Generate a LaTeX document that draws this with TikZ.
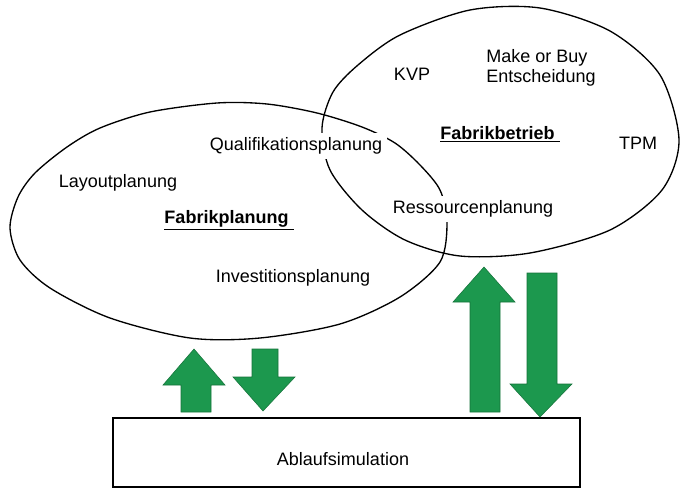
\documentclass[tikz,border=0pt]{standalone}
\usepackage{fontspec}
\setmainfont{Liberation Sans}
\definecolor{arrowgreen}{RGB}{28,152,78}
\tikzset{every picture/.style={line width=0.75pt}}
\tikzset{
	plan text/.style={font=\fontsize{13.5}{15.5}\selectfont, fill=white, inner sep=3.5pt},
	block arrow/.style={fill=arrowgreen, draw=arrowgreen!75!black, line width=0.4pt}}

\begin{document}
\begin{tikzpicture}[x=0.75pt,y=0.75pt,yscale=-1,xscale=1]
	\useasboundingbox (0,0) rectangle (681,489);

	%Shape: Ellipse [Fabrikplanung]
	\draw [line width=1pt] plot [smooth cycle] coordinates {(10,228) (18,197) (35,173) (67,147) (100,128) (150,112) (217,103) (267,104) (317,113) (362,127) (395,143) (420,165) (440,190) (447,222) (440,262) (400,297) (340,324) (260,338) (190,338) (110,318) (50,288) (20,260)};
	%Shape: Ellipse [Fabrikbetrieb]
	\draw [line width=1pt] plot [smooth cycle] coordinates {(322,128) (333,92) (358,65) (400,35) (470,10) (540,8) (610,31) (660,75) (679,140) (662,190) (610,230) (530,253) (460,256) (405,240) (362,210) (330,170)};

	%Shape: Rectangle [Ablaufsimulation]
	\draw [line width=1pt] (113,418) -- (580,418) -- (580,487) -- (113,487) -- cycle ;

	%Shape: Up Arrow (small)
	\draw [block arrow] (181,412) -- (181,385) -- (163,385) -- (194,349) -- (225,385) -- (211,385) -- (211,412) -- cycle ;
	%Shape: Down Arrow (small)
	\draw [block arrow] (252,349) -- (278,349) -- (278,377) -- (295,377) -- (263,411) -- (233,377) -- (252,377) -- cycle ;
	%Shape: Up Arrow (large)
	\draw [block arrow] (470,412) -- (470,302) -- (453,302) -- (484,267) -- (515,302) -- (500,302) -- (500,412) -- cycle ;
	%Shape: Down Arrow (large)
	\draw [block arrow] (527,273) -- (557,273) -- (557,384) -- (572,384) -- (540,417) -- (510,384) -- (527,384) -- cycle ;

	% Text Node
	\node [plan text] (quali) at (296,146) {Qualifikationsplanung};
	% Text Node
	\node [plan text] (layout) at (118,183) {Layoutplanung};
	% Text Node
	\node [plan text] (fplan) at (229,220) {\underline{\textbf{Fabrikplanung}\ }};
	% Text Node
	\node [plan text] (invest) at (293,278) {Investitionsplanung};
	% Text Node
	\node [plan text] (kvp) at (412,74) {KVP};
	% Text Node
	\node [plan text, align=left] (makebuy) at (541,68) {Make or Buy\\Entscheidung};
	% Text Node
	\node [plan text] (fbetrieb) at (500,134) {\underline{\textbf{Fabrikbetrieb}\ }};
	% Text Node
	\node [plan text] (tpm) at (638,143) {TPM};
	% Text Node
	\node [plan text] (ressourcen) at (473,209) {Ressourcenplanung};
	% Text Node
	\node [plan text] (ablauf) at (343,459) {Ablaufsimulation};

\end{tikzpicture}
\end{document}
